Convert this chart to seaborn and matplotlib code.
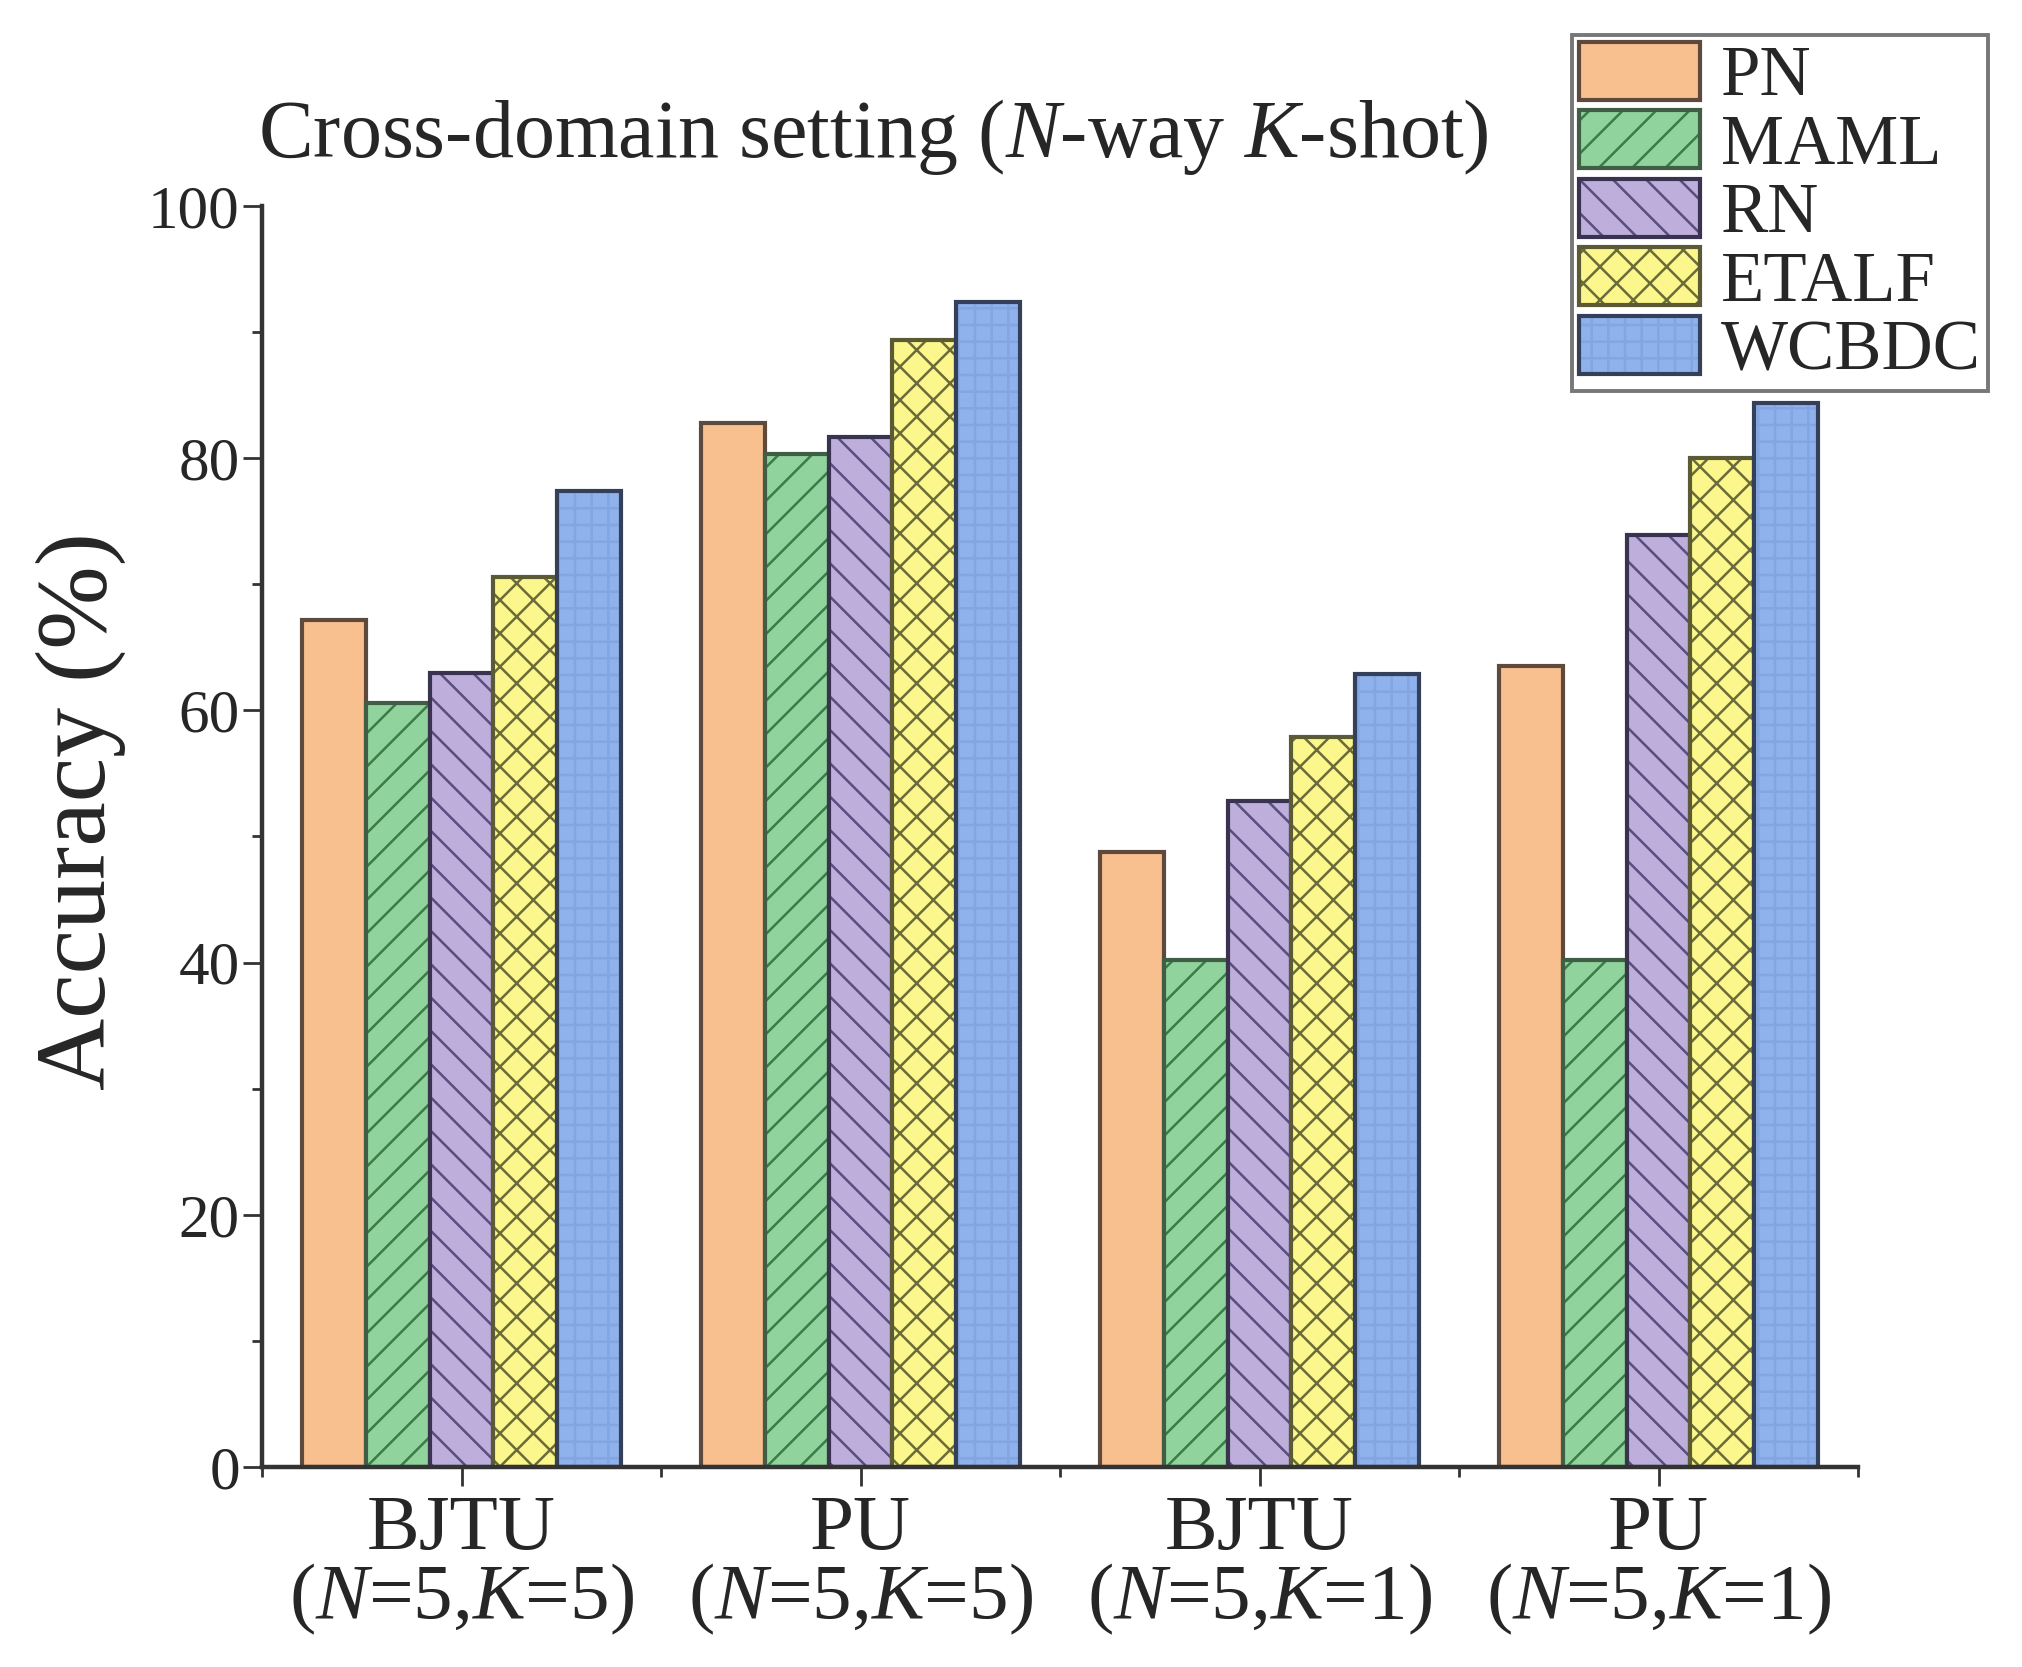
import numpy as np
import pandas as pd
import matplotlib
matplotlib.use("Agg")
import matplotlib.pyplot as plt
import matplotlib.colors as mcolors
from matplotlib.ticker import MultipleLocator, FixedLocator
import seaborn as sns

# data
groups = [
    "BJTU\n($\\mathit{N}$=5,$\\mathit{K}$=5)",
    "PU\n($\\mathit{N}$=5,$\\mathit{K}$=5)",
    "BJTU\n($\\mathit{N}$=5,$\\mathit{K}$=1)",
    "PU\n($\\mathit{N}$=5,$\\mathit{K}$=1)",
]
methods = ["PN", "MAML", "RN", "ETALF", "WCBDC"]
pn = [67.2, 82.8, 48.8, 63.5]
maml = [60.6, 80.3, 40.2, 40.2]
rn = [63.0, 81.7, 52.8, 73.9]
etalf = [70.6, 89.4, 57.9, 80.0]
wcbdc = [77.4, 92.4, 62.9, 84.4]

fill_colors = ["#F9C08F", "#90D39C", "#BDAEDB", "#FBF78C", "#8FB2EC"]
edge_colors = ["#5e4a3c", "#3f5e45", "#3a3350", "#5a5a35", "#34405a"]
hatch_colors = ["#5e4a3c", "#3d7a4a", "#5a4d80", "#6b6b3a", "#83a6e2"]
hatches = ["", "//", "\\\\", "xx", "++"]

df = pd.DataFrame({
    "group": np.repeat(groups, len(methods)),
    "method": methods * len(groups),
    "acc": np.array([pn, maml, rn, etalf, wcbdc]).T.ravel(),
})

sns.set_style("ticks")
plt.rcParams["font.family"] = ["Liberation Serif", "DejaVu Serif"]
plt.rcParams["mathtext.fontset"] = "custom"
plt.rcParams["mathtext.rm"] = "Liberation Serif"
plt.rcParams["mathtext.it"] = "Liberation Serif:italic"
plt.rcParams["hatch.linewidth"] = 0.9

fig = plt.figure(figsize=(10.11, 8.335), dpi=200)
ax = fig.add_axes([262 / 2022, 1 - 1467 / 1667, (1858 - 262) / 2022, (1467 - 206) / 1667])

sns.barplot(data=df, x="group", y="acc", hue="method", hue_order=methods,
            palette=fill_colors, width=0.8, legend=False, ax=ax,
            edgecolor="black", linewidth=1.5, saturation=1)

for i, cont in enumerate(ax.containers):
    for p in cont.patches:
        p.set_hatch(hatches[i])
        p.set_edgecolor(edge_colors[i])
        if hasattr(p, "set_hatchcolor"):
            p.set_hatchcolor(hatch_colors[i])
        else:
            p._hatch_color = mcolors.to_rgba(hatch_colors[i])

ax.set_xlim(-0.5, 3.5)
ax.set_ylim(0, 100)
ax.yaxis.set_major_locator(MultipleLocator(20))
ax.yaxis.set_minor_locator(MultipleLocator(10))
ax.xaxis.set_minor_locator(FixedLocator([-0.5, 0.5, 1.5, 2.5, 3.5]))
sns.despine(ax=ax)
for s in ["left", "bottom"]:
    ax.spines[s].set_linewidth(1.6)
    ax.spines[s].set_color("#333333")

ax.tick_params(axis="y", which="major", length=7, width=1.0, labelsize=22, pad=1, color="#333333")
ax.tick_params(axis="y", which="minor", length=3.5, width=1.0, color="#333333")
ax.tick_params(axis="x", which="major", length=7, width=1.0, labelsize=28.5, pad=3, color="#333333")
ax.tick_params(axis="x", which="minor", length=3.5, width=1.0, color="#333333")
for t in ax.get_xticklabels():
    t.set_linespacing(0.92)

ax.set_xlabel("")
ax.set_ylabel("Accuracy (%)", fontsize=36)
ax.yaxis.set_label_coords(-0.085, 0.52)

fig.text(258 / 2022, 1 - 137 / 1667,
         "Cross-domain setting ($\\mathit{N}$-way $\\mathit{K}$-shot)",
         fontsize=29.5, va="center", ha="left")

leg = fig.legend(ax.containers, methods, loc="upper right",
                 bbox_to_anchor=(1988 / 2022, 1 - 35 / 1667),
                 fontsize=25.5, frameon=True, fancybox=False,
                 handlelength=1.7, handleheight=0.88, handletextpad=0.3,
                 labelspacing=0.0, borderpad=0.1, borderaxespad=0)
leg.get_frame().set_edgecolor("#555555")
leg.get_frame().set_linewidth(1.4)

fig.savefig("out.png", dpi=200)
